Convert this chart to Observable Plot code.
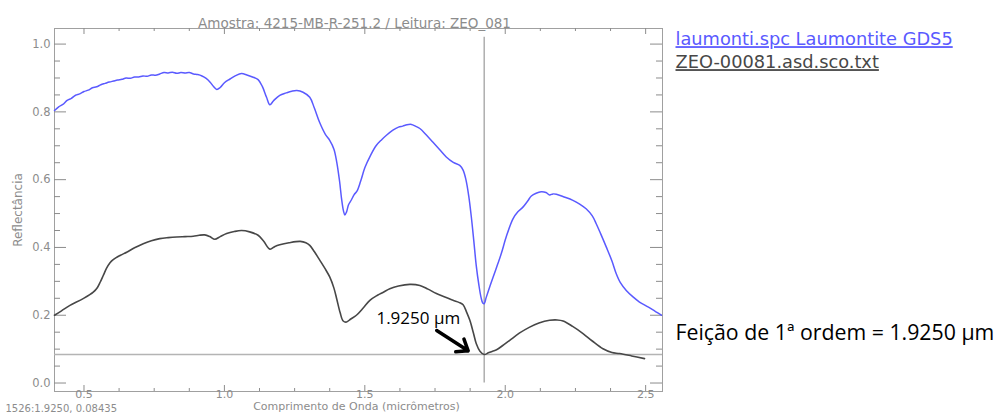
<!DOCTYPE html>
<html>
<head>
<meta charset="utf-8">
<script src="https://cdn.jsdelivr.net/npm/d3@7"></script>
<script src="https://cdn.jsdelivr.net/npm/@observablehq/plot@0.6"></script>
<style>
  html, body { margin: 0; padding: 0; background: #fff; overflow: hidden; }
  #chart { width: 995px; height: 414px; }
  svg { overflow: visible; }
</style>
</head>
<body>
<div id="chart"></div>
<script>
// ---------- data ----------
const titleText = "Amostra: 4215-MB-R-251.2 / Leitura: ZEO_081";
const xLabel = "Comprimento de Onda (micrômetros)";
const yLabel = "Reflectância";
const cursorText = "1526:1.9250, 0.08435";
const legendNames = ["laumonti.spc Laumontite GDS5", "ZEO-00081.asd.sco.txt"];
const featureLabel = "1.9250 µm";
const featureNote = "Feição de 1ª ordem = 1.9250 µm";

const featureWavelength = 1.925;
const featureReflectance = 0.08435;
const cursorTop = 1.02;
const arrowAnnot = [{x1: 1.756, y1: 0.155, x2: 1.868, y2: 0.095}];

const xMajorTicks = [0.5, 1.0, 1.5, 2.0, 2.5];
const xTickLabels = ["0.5", "1.0", "1.5", "2.0", "2.5"];
const xMinorTicks = [0.625, 0.75, 0.875, 1.125, 1.25, 1.375, 1.625, 1.75, 1.875, 2.125, 2.25, 2.375];
const yMajorTicks = [0.0, 0.2, 0.4, 0.6, 0.8, 1.0];
const yTickLabels = ["0.0", "0.2", "0.4", "0.6", "0.8", "1.0"];
const yMinorTicks = [0.05, 0.1, 0.15, 0.25, 0.3, 0.35, 0.45, 0.5, 0.55, 0.65, 0.7, 0.75, 0.85, 0.9, 0.95];

// Library spectrum (laumontite GDS5)
const libWavelength = [0.395,0.41,0.425,0.44,0.455,0.47,0.485,0.50,0.515,0.53,0.545,0.56,0.575,0.59,0.605,0.62,0.635,0.65,0.665,0.68,0.695,0.71,0.725,0.74,0.755,0.77,0.785,0.80,0.815,0.83,0.845,0.86,0.875,0.89,0.905,0.92,0.935,0.95,0.962,0.973,0.985,1.00,1.02,1.04,1.061,1.08,1.10,1.12,1.135,1.15,1.162,1.175,1.197,1.22,1.24,1.258,1.28,1.304,1.32,1.34,1.36,1.375,1.39,1.40,1.41,1.417,1.424,1.429,1.435,1.442,1.452,1.462,1.472,1.485,1.50,1.52,1.54,1.56,1.577,1.60,1.62,1.635,1.65,1.666,1.68,1.696,1.72,1.742,1.766,1.79,1.815,1.838,1.85,1.86,1.87,1.879,1.888,1.897,1.906,1.914,1.92,1.925,1.932,1.944,1.957,1.972,1.986,2.005,2.028,2.045,2.063,2.08,2.093,2.11,2.128,2.145,2.158,2.17,2.182,2.21,2.241,2.265,2.288,2.31,2.324,2.34,2.36,2.38,2.395,2.41,2.431,2.455,2.478,2.51,2.535,2.556];
const libReflectance = [0.804,0.815,0.822,0.834,0.840,0.849,0.853,0.860,0.864,0.871,0.874,0.880,0.884,0.888,0.891,0.894,0.896,0.900,0.899,0.903,0.903,0.906,0.905,0.909,0.908,0.912,0.916,0.915,0.917,0.914,0.916,0.915,0.916,0.912,0.910,0.906,0.899,0.887,0.874,0.866,0.872,0.886,0.897,0.907,0.913,0.909,0.903,0.895,0.875,0.843,0.821,0.833,0.849,0.856,0.861,0.863,0.858,0.843,0.812,0.767,0.733,0.716,0.690,0.652,0.596,0.545,0.508,0.496,0.505,0.526,0.540,0.556,0.566,0.595,0.635,0.671,0.700,0.718,0.731,0.746,0.755,0.758,0.762,0.763,0.758,0.751,0.731,0.711,0.689,0.667,0.651,0.642,0.628,0.600,0.552,0.492,0.420,0.345,0.290,0.252,0.236,0.234,0.252,0.282,0.313,0.348,0.382,0.435,0.485,0.505,0.519,0.537,0.552,0.560,0.564,0.562,0.555,0.558,0.557,0.549,0.539,0.528,0.514,0.493,0.470,0.440,0.401,0.360,0.323,0.296,0.273,0.254,0.239,0.224,0.211,0.200];

// Sample spectrum (ZEO-00081)
const sampleWavelength = [0.395,0.42,0.45,0.497,0.533,0.548,0.558,0.57,0.58,0.592,0.604,0.63,0.652,0.68,0.711,0.74,0.77,0.80,0.83,0.86,0.889,0.91,0.93,0.948,0.966,0.985,1.008,1.035,1.061,1.09,1.12,1.14,1.162,1.18,1.197,1.23,1.27,1.29,1.304,1.32,1.34,1.358,1.375,1.39,1.40,1.412,1.423,1.435,1.45,1.47,1.495,1.518,1.545,1.566,1.589,1.62,1.66,1.696,1.725,1.755,1.785,1.814,1.835,1.85,1.862,1.874,1.886,1.897,1.91,1.925,1.94,1.955,1.969,1.99,2.016,2.05,2.087,2.12,2.158,2.185,2.206,2.24,2.277,2.31,2.348,2.38,2.407,2.45,2.496];
const sampleReflectance = [0.200,0.213,0.229,0.249,0.268,0.282,0.298,0.320,0.338,0.354,0.364,0.377,0.386,0.399,0.411,0.420,0.426,0.429,0.431,0.432,0.433,0.436,0.437,0.432,0.424,0.432,0.441,0.447,0.450,0.446,0.436,0.418,0.395,0.403,0.408,0.414,0.418,0.414,0.406,0.388,0.362,0.338,0.313,0.280,0.248,0.208,0.183,0.180,0.189,0.200,0.222,0.244,0.259,0.268,0.278,0.286,0.291,0.288,0.277,0.264,0.254,0.244,0.238,0.231,0.210,0.185,0.150,0.116,0.094,0.084,0.089,0.094,0.098,0.110,0.126,0.147,0.165,0.177,0.185,0.186,0.183,0.167,0.146,0.124,0.101,0.090,0.087,0.080,0.072];

// ---------- build ----------
const libData = libWavelength.map((w, i) => ({w, r: libReflectance[i]}));
const sampleData = sampleWavelength.map((w, i) => ({w, r: sampleReflectance[i]}));

const W = 995, H = 414;
const mL = 54, mR = 333, mT = 28, mB = 23;
const fw = W - mL - mR, fh = H - mT - mB;
const axisGray = "#8c8c8c";
const frameGray = "#a0a0a0";
const hershey = "DejaVu Sans, sans-serif";
const calibriLike = "Open Sans, Lato, sans-serif";

const chart = Plot.plot({
  width: W, height: H,
  marginLeft: mL, marginRight: mR, marginTop: mT, marginBottom: mB,
  style: {background: "#fff", fontFamily: hershey, overflow: "visible"},
  x: {domain: [0.395, 2.56], axis: null},
  y: {domain: [-0.025, 1.046], axis: null},
  marks: [
    Plot.frame({stroke: frameGray, strokeWidth: 1}),
    // inward ticks: bottom / top
    Plot.tickX(xMajorTicks, {x: d => d, insetTop: fh - 6, stroke: axisGray}),
    Plot.tickX(xMinorTicks, {x: d => d, insetTop: fh - 3, stroke: axisGray}),
    Plot.tickX(xMajorTicks, {x: d => d, insetBottom: fh - 6, stroke: axisGray}),
    Plot.tickX(xMinorTicks, {x: d => d, insetBottom: fh - 3, stroke: axisGray}),
    // inward ticks: left / right
    Plot.tickY(yMajorTicks, {y: d => d, insetRight: fw - 12, stroke: axisGray}),
    Plot.tickY(yMinorTicks, {y: d => d, insetRight: fw - 6, stroke: axisGray}),
    Plot.tickY(yMajorTicks, {y: d => d, insetLeft: fw - 12, stroke: axisGray}),
    Plot.tickY(yMinorTicks, {y: d => d, insetLeft: fw - 6, stroke: axisGray}),
    // tick labels
    Plot.text(xMajorTicks, {x: d => d, frameAnchor: "bottom", dy: 6, text: (d, i) => xTickLabels[i], fill: axisGray, fontSize: 11}),
    Plot.text(yMajorTicks, {y: d => d, frameAnchor: "left", dx: -4, textAnchor: "end", text: (d, i) => yTickLabels[i], fill: axisGray, fontSize: 11.5}),
    // axis titles
    Plot.text([titleText], {frameAnchor: "top", dy: -10, dx: -4, fill: axisGray, fontSize: 13.5}),
    Plot.text([xLabel], {frameAnchor: "bottom", dy: 18.5, dx: -2, fill: axisGray, fontSize: 11}),
    Plot.text([yLabel], {frameAnchor: "left", dx: -36, textAnchor: "middle", rotate: -90, fill: axisGray, fontSize: 12}),
    Plot.text([cursorText], {frameAnchor: "bottom-left", dx: -49, dy: 20, textAnchor: "start", fill: axisGray, fontSize: 10}),
    // cursor lines
    Plot.ruleY([featureReflectance], {stroke: "#b4b4b4", strokeWidth: 1.6}),
    Plot.ruleX([featureWavelength], {y1: 0, y2: cursorTop, stroke: "#9a9a9a", strokeWidth: 1.2}),
    // spectra
    Plot.line(libData, {x: "w", y: "r", stroke: "#5a5aff", strokeWidth: 1.5, curve: "catmull-rom"}),
    Plot.line(sampleData, {x: "w", y: "r", stroke: "#474747", strokeWidth: 1.6, curve: "catmull-rom"}),
    // annotation
    Plot.arrow(arrowAnnot, {x1: "x1", y1: "y1", x2: "x2", y2: "y2", stroke: "#000", strokeWidth: 3.5, headLength: 13, headAngle: 75}),
    Plot.text([featureWavelength], {x: d => d, y: featureReflectance, dx: -24, dy: -36, textAnchor: "end", text: () => featureLabel, fill: "#000", fontFamily: calibriLike, fontSize: 17}),
    // legend
    Plot.text([legendNames[0]], {frameAnchor: "top-right", dx: 13, dy: 4, textAnchor: "start", fill: "#5a5aff", fontSize: 17.8}),
    Plot.text([legendNames[1]], {frameAnchor: "top-right", dx: 13, dy: 27, textAnchor: "start", fill: "#474747", fontSize: 17.8}),
    Plot.text([featureNote], {frameAnchor: "bottom-right", dx: 13, dy: -52, textAnchor: "start", fill: "#000", fontFamily: calibriLike, fontSize: 21.3})
  ]
});

d3.select(chart).selectAll("text").each(function () {
  const t = this.textContent;
  if (legendNames.includes(t)) this.style.textDecoration = "underline";
});

document.getElementById("chart").appendChild(chart);
</script>
</body>
</html>
